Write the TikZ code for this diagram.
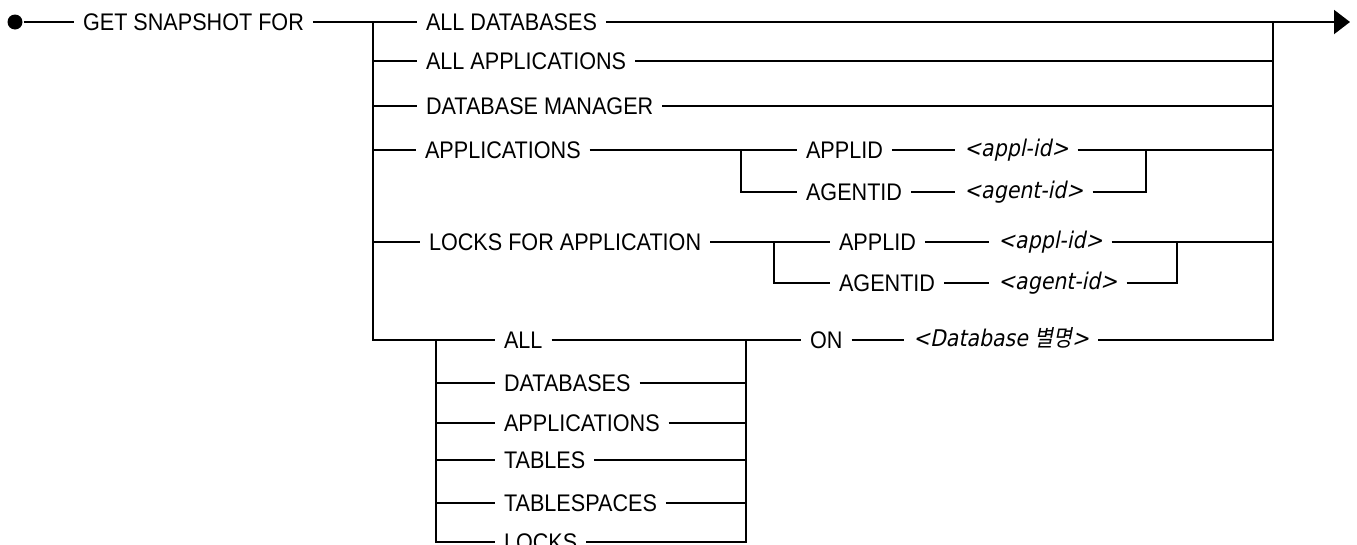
\documentclass[tikz,border=0pt]{standalone}
\usepackage{fontspec}
\setmainfont{Liberation Sans}[FakeStretch=0.9]
\newfontfamily\argfamily{DejaVu Sans}[FakeSlant=0.2, FakeStretch=0.89]
\newfontfamily\kofamily{Noto Sans CJK KR}[FakeSlant=0.2, FakeStretch=0.89]
\usetikzlibrary{arrows.meta}

\tikzset{
  kw/.style={anchor=west, inner xsep=8pt, inner ysep=0pt, text height=16.5pt, text depth=0pt, font=\fontsize{24}{26}\selectfont},
  arg/.style={anchor=west, inner xsep=8pt, inner ysep=0pt, text height=13pt, text depth=0pt, font=\argfamily\fontsize{23}{26}\selectfont},
  rail/.style={line width=2.1pt},
}

\begin{document}
\begin{tikzpicture}[x=1pt, y=-1pt, rail]
\useasboundingbox (0,0) rectangle (1357,544);

% main line
\node[shape=circle, fill, minimum size=15pt, inner sep=0pt] (start) at (15,22){};
\node[kw] (get) at (74,22){GET SNAPSHOT FOR};
\coordinate (stop) at (1350,22);

\coordinate (l1) at (373,22);
\coordinate (l2) at (373,61);
\coordinate (l3) at (373,106);
\coordinate (l4) at (373,150);
\coordinate (l6) at (373,242);
\coordinate (l8) at (373,340);
\coordinate (r1) at (1273,22);
\coordinate (r2) at (1273,61);
\coordinate (r3) at (1273,106);
\coordinate (r4) at (1273,150);
\coordinate (r6) at (1273,242);
\coordinate (r8) at (1273,340);

\node[kw] (alldb) at (417,22){ALL DATABASES};
\node[kw] (allapp) at (417,61){ALL APPLICATIONS};
\node[kw] (dbm) at (417,106){DATABASE MANAGER};
\node[kw] (apps) at (416,150){APPLICATIONS};
\node[kw] (lockapp) at (420,242){LOCKS FOR APPLICATION};

\draw (start) to (get);
\draw (get) to (l1);
\draw (l1) to (alldb);
\draw[-{Triangle[length=16pt,width=24pt]}] (alldb) to (stop);
\draw (l2) to (allapp);
\draw (allapp) to (r2);
\draw (l3) to (dbm);
\draw (dbm) to (r3);
\draw (l4) to (apps);
\draw (l6) to (lockapp);

% applications
\coordinate (a1) at (741,150);
\coordinate (a2) at (741,192);
\coordinate (b1) at (1146,150);
\coordinate (b2) at (1146,192);
\node[kw] (applida) at (797,150){APPLID};
\node[arg] (applarga) at (955,150){<appl-id>};
\node[kw] (agentida) at (797,192){AGENTID};
\node[arg] (agentarga) at (955,192){<agent-id>};

\draw (apps) to (a1);
\draw (a1) to (applida);
\draw (applida) to (applarga);
\draw (applarga) to (b1);
\draw (b1) to (r4);
\draw (a1) -- (a2) -- (agentida);
\draw (agentida) to (agentarga);
\draw (agentarga) -- (b2) -- (b1);

% locks for application
\coordinate (c1) at (774,242);
\coordinate (c2) at (774,283);
\coordinate (d1) at (1177,242);
\coordinate (d2) at (1177,283);
\node[kw] (applidb) at (830,242){APPLID};
\node[arg] (applargb) at (989,242){<appl-id>};
\node[kw] (agentidb) at (830,283){AGENTID};
\node[arg] (agentargb) at (989,283){<agent-id>};

\draw (lockapp) to (c1);
\draw (c1) to (applidb);
\draw (applidb) to (applargb);
\draw (applargb) to (d1);
\draw (d1) to (r6);
\draw (c1) -- (c2) -- (agentidb);
\draw (agentidb) to (agentargb);
\draw (agentargb) -- (d2) -- (d1);

% monitor groups
\coordinate (e0) at (436,340);
\coordinate (e1) at (436,383);
\coordinate (e2) at (436,423);
\coordinate (e3) at (436,460);
\coordinate (e4) at (436,503);
\coordinate (e5) at (436,542);
\coordinate (f0) at (746,340);
\coordinate (f1) at (746,383);
\coordinate (f2) at (746,423);
\coordinate (f3) at (746,460);
\coordinate (f4) at (746,503);
\coordinate (f5) at (746,542);
\node[kw] (gall) at (495,340){ALL};
\node[kw] (gdb) at (495,383){DATABASES};
\node[kw] (gapp) at (495,423){APPLICATIONS};
\node[kw] (gtbl) at (495,460){TABLES};
\node[kw] (gtbsp) at (495,503){TABLESPACES};
\node[kw] (glock) at (495,542){LOCKS};
\node[kw] (on) at (801,340){ON};
\node[arg] (dbarg) at (904,340){<Database {\kofamily 별명}>};

\draw (l1) -- (l8) -- (e0);
\draw (r1) -- (r8) -- (dbarg);
\draw (e0) to (gall);
\draw (gall) to (f0);
\draw (f0) to (on);
\draw (on) to (dbarg);
\draw (e1) to (gdb);
\draw (gdb) to (f1);
\draw (e2) to (gapp);
\draw (gapp) to (f2);
\draw (e3) to (gtbl);
\draw (gtbl) to (f3);
\draw (e4) to (gtbsp);
\draw (gtbsp) to (f4);
\draw (e0) -- (e5) -- (glock);
\draw (glock) -- (f5) -- (f0);
\end{tikzpicture}
\end{document}
